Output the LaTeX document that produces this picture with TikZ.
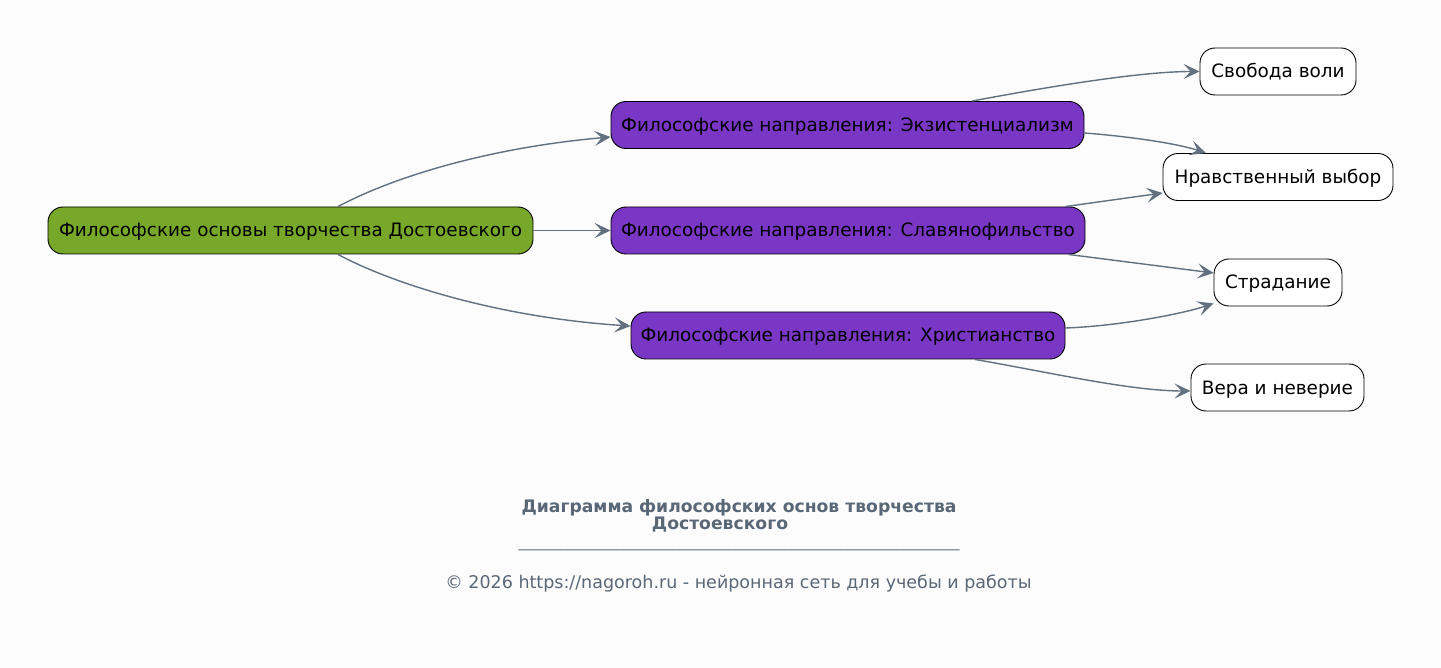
\documentclass[tikz,border=0pt]{standalone}
\usepackage{fontspec}
\setmainfont{DejaVu Sans}
\usetikzlibrary{arrows.meta,calc}
\definecolor{bgc}{HTML}{FCFCFC}
\definecolor{rootc}{HTML}{77A82A}
\definecolor{midc}{HTML}{7A36C4}
\definecolor{edgec}{HTML}{627080}
\definecolor{txtc}{HTML}{5A6777}
\begin{document}
\begin{tikzpicture}[x=1pt,y=-1pt,
  box/.style={draw=black,line width=0.9pt,rounded corners=15pt,minimum height=47pt,
    inner xsep=0pt,inner ysep=0pt,text height=14pt,text depth=1pt,
    font=\fontsize{18.4}{22}\selectfont,text=black},
  rootbox/.style={box,fill=rootc},
  midbox/.style={box,fill=midc},
  leafbox/.style={box,fill=white},
  conn/.style={draw=edgec,line width=1.4pt,-{Stealth[length=16pt,width=15pt,inset=7pt]}},
  titletext/.style={text=txtc,font=\fontsize{17.2}{20}\selectfont\bfseries,inner sep=0pt},
  foottext/.style={text=txtc,font=\fontsize{17.5}{20}\selectfont,inner sep=0pt}]
\fill[bgc] (0,0) rectangle (1441,668);
\useasboundingbox (0,0) rectangle (1441,668);

\node[rootbox,minimum width=485pt] (root) at (290.5,230.5) {Философские основы творчества Достоевского};
\node[midbox,minimum width=473pt] (e1) at (847.5,125) {Философские направления: Экзистенциализм};
\node[midbox,minimum width=474pt] (e2) at (848,230.5) {Философские направления: Славянофильство};
\node[midbox,minimum width=434pt] (e3) at (848,335.5) {Философские направления: Христианство};
\node[leafbox,minimum width=156pt] (l1) at (1278,71.5) {Свобода воли};
\node[leafbox,minimum width=230pt] (l2) at (1278,177) {Нравственный выбор};
\node[leafbox,minimum width=128pt] (l3) at (1278,282.5) {Страдание};
\node[leafbox,minimum width=173pt] (l4) at (1277.5,387.5) {Вера и неверие};

\draw[conn] ($(root.north)+(47.5,0)$) .. controls +(60,-32) and +(-115,10) .. ($(e1.west)+(0,12)$);
\draw[conn] (root.east) -- (e2.west);
\draw[conn] ($(root.south)+(47.5,0)$) .. controls +(60,32) and +(-125,-8) .. ($(e3.west)+(0,-9.5)$);
\draw[conn] ($(e1.north)+(124.5,0)$) .. controls +(75,-14) and +(-60,0) .. (l1.west);
\draw[conn] ($(e1.east)+(0,8)$) .. controls +(40,3) and +(-30,-10) .. ($(l2.north)+(-72,0)$);
\draw[conn] ($(e2.north east)+(-20,0)$) -- ($(l2.west)+(0,16)$);
\draw[conn] ($(e2.south east)+(-17,0)$) -- ($(l3.west)+(0,-9.5)$);
\draw[conn] ($(e3.east)+(0,-7.5)$) .. controls +(55,-2) and +(-30,10) .. ($(l3.south west)+(0,-3)$);
\draw[conn] ($(e3.south)+(127,0)$) .. controls +(75,13) and +(-60,0) .. ($(l4.west)+(0,3.5)$);

\node[titletext] (t1) at (739,508) {Диаграмма философских основ творчества};
\node[titletext] (t2) at (720,525) {Достоевского};
\node[text=txtc,inner sep=0pt] (ul) at (739,549) {\fontsize{14}{16}\selectfont\_\_\_\_\_\_\_\_\_\_\_\_\_\_\_\_\_\_\_\_\_\_\_\_\_\_\_\_\_\_\_\_\_\_\_\_\_\_\_\_\_\_\_\_\_\_\_\_\_\_\_\_\_\_\_\_\_\_\_\_\_\_\_};
\node[foottext] (ft) at (738.5,584) {© 2026 https://nagoroh.ru - нейронная сеть для учебы и работы};
\end{tikzpicture}
\end{document}
